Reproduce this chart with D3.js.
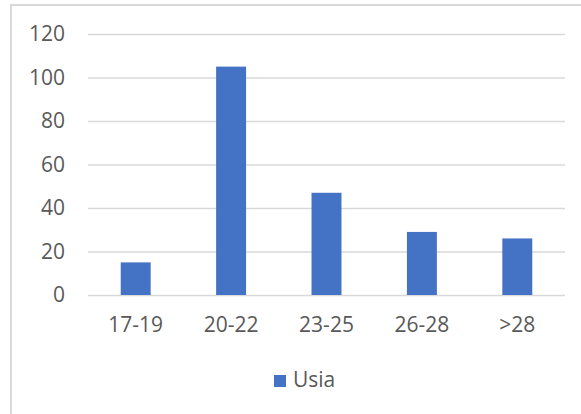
<!DOCTYPE html>
<html>
<head>
<meta charset="utf-8">
<script src="https://cdn.jsdelivr.net/npm/d3@7"></script>
<style>
  html, body { margin: 0; padding: 0; background: #fff; }
  svg { display: block; }
  text { font-family: "Open Sans", "Noto Sans", sans-serif; fill: #595959; }
</style>
</head>
<body>
<svg id="chart" width="581" height="414"></svg>
<script>
// Age groups and respondent counts
const categories = ["17-19", "20-22", "23-25", "26-28", ">28"];
const usia = [15, 105, 47, 29, 26];
const yTicks = [0, 20, 40, 60, 80, 100, 120];
const seriesName = "Usia";

const width = 581, height = 414;
const plot = { left: 88, right: 565, top: 34, bottom: 295 };
const barColor = "#4472C4";
const gridColor = "#d9d9d9";

const svg = d3.select("#chart");

// Chart area frame (left and top edges visible)
svg.append("path")
  .attr("d", `M11,${height} L11,5 L${width},5`)
  .attr("fill", "none")
  .attr("stroke", gridColor)
  .attr("stroke-width", 2);

const x = d3.scaleBand()
  .domain(categories)
  .range([plot.left, plot.right])
  .paddingInner(0.686)
  .paddingOuter(0.343);

const y = d3.scaleLinear()
  .domain([0, 120])
  .range([plot.bottom, plot.top]);

// Value axis with gridlines
const yAxis = svg.append("g")
  .attr("transform", `translate(${plot.left},0)`)
  .call(d3.axisLeft(y)
    .tickValues(yTicks)
    .tickSize(-(plot.right - plot.left))
    .tickPadding(23));
yAxis.select(".domain").remove();
yAxis.selectAll(".tick line")
  .attr("stroke", gridColor)
  .attr("stroke-width", 1.5);
yAxis.selectAll(".tick text")
  .attr("font-size", 21)
  .attr("font-family", "'Open Sans', 'Noto Sans', sans-serif")
  .attr("fill", "#595959");

// Bars
svg.append("g")
  .selectAll("rect")
  .data(usia)
  .join("rect")
  .attr("x", (d, i) => x(categories[i]))
  .attr("y", d => y(d))
  .attr("width", x.bandwidth())
  .attr("height", d => y(0) - y(d))
  .attr("fill", barColor);

// Category axis labels
const xAxis = svg.append("g")
  .attr("transform", `translate(0,${plot.bottom})`)
  .call(d3.axisBottom(x).tickSize(0).tickPadding(22));
xAxis.select(".domain").remove();
xAxis.selectAll(".tick text")
  .attr("font-size", 21)
  .attr("font-family", "'Open Sans', 'Noto Sans', sans-serif")
  .attr("fill", "#595959");

// Legend
const legend = svg.append("g").attr("transform", "translate(274,375)");
legend.append("rect")
  .attr("width", 12)
  .attr("height", 12)
  .attr("fill", barColor);
legend.append("text")
  .attr("x", 19)
  .attr("y", 12)
  .attr("font-size", 21)
  .text(seriesName);
</script>
</body>
</html>
